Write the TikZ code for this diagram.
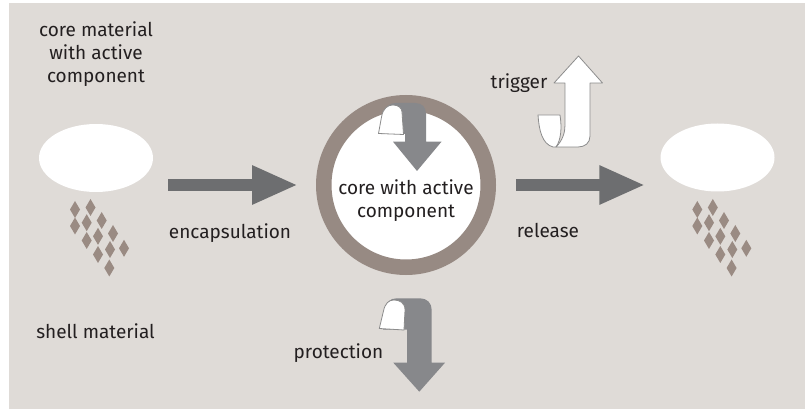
\documentclass[tikz,border=0pt]{standalone}
\usepackage{fontspec}
\setmainfont{Fira Sans}
\usetikzlibrary{arrows.meta,shapes.geometric}

\definecolor{bgc}{HTML}{DFDBD7}
\definecolor{ringc}{HTML}{978A83}
\definecolor{shellc}{HTML}{9A8B83}
\definecolor{flowc}{HTML}{6D6E70}
\definecolor{curlc}{HTML}{87888B}
\definecolor{edgec}{HTML}{8C8C8C}
\definecolor{textc}{HTML}{231F20}

\tikzset{
  label/.style={font=\fontsize{19}{23}\selectfont, text=textc, inner sep=0pt, anchor=base},
  droplet/.style={ellipse, fill=white, draw=none, inner sep=0pt,
                  minimum width=114pt, minimum height=68pt},
  capsule/.style={circle, draw=ringc, line width=15.5pt, fill=white,
                  minimum size=164.5pt, inner sep=0pt},
  flow/.style={draw=flowc, line width=12pt,
               -{Triangle[length=46pt,width=36pt]}},
  ribbon/.style={fill=white, draw=edgec, line width=0.8pt, line join=round},
}

% one cluster of shell-material particles, drawn at the current shift
\newcommand{\shellcluster}{%
  \foreach \px/\py in {75/209.5, 90.5/207.5, 75/226, 86.7/222.7, 101.7/220.5,
                       113/233.5, 86.7/240.5, 98/236.3, 110/249.5, 124/248.3,
                       98/254.5, 109.3/268}
    \fill[shellc] ({\px},{\py-8.5}) -- ({\px+5},{\py}) -- ({\px},{\py+8.5})
                  -- ({\px-5},{\py}) -- cycle;%
}

\begin{document}
\begin{tikzpicture}[x=1pt,y=-1pt]
  \useasboundingbox (0,0) rectangle (805,411);
  \fill[bgc] (9,3) rectangle (805,409);

  % starting materials
  \node[droplet] (lell) at (96,158) {};
  \shellcluster
  \node[label] (coreA) at (96,37) {core material};
  \node[label] (coreB) at (96,60) {with active};
  \node[label] (coreC) at (96,83) {component};
  \node[label] (shell) at (95.5,338) {shell material};

  % microcapsule
  \node[capsule] (ring) at (406,185) {};
  \node[label] (capA) at (406,195) {core with active};
  \node[label] (capB) at (406,218) {component};

  % released core and shell
  \node[droplet] (rell) at (717.5,157.5) {};
  \begin{scope}[xshift=622.3pt]
    \shellcluster
  \end{scope}

  % process arrows
  \draw[flow, shorten <=15pt, shorten >=18pt] (lell.east |- ring.west) -- (ring.west);
  \draw[flow, shorten <=20pt, shorten >=15pt] (ring.east) -- (rell.west |- ring.east);
  \node[label] (encap) at (230,239) {encapsulation};
  \node[label] (rel) at (548,238) {release};

  % protection arrow inside the capsule
  \fill[curlc] (405,141.7) -- (393,141.7) -- (417,171) -- (441.5,141.7) -- (426,141.7)
    -- (426,114) .. controls (426,107) and (422,103) .. (415,103) -- (396,103)
    .. controls (390,103) and (386,106) .. (385,112) -- (383,134) -- (405,134) -- cycle;
  \draw[ribbon] (378.5,133.5) -- (381.5,117) .. controls (383,108) and (388,105) .. (393,105)
    .. controls (398,105) and (402,108) .. (402,112) -- (403.5,134.5) -- cycle;

  % protection arrow below
  \fill[curlc] (407,362.7) -- (393.3,362.7) -- (419.3,391.7) -- (445,362.7) -- (431.7,362.7)
    -- (431.7,310) .. controls (431.7,303) and (427,298.3) .. (420,298.3) -- (397,298.3)
    .. controls (390,298.3) and (386,302) .. (385,310) -- (383,329.5) -- (407,329.5) -- cycle;
  \draw[ribbon] (379.3,328.5) -- (383.3,311.7) .. controls (385,303) and (389,300) .. (394,300)
    .. controls (400,300) and (405,303) .. (405,310) -- (404,330) -- cycle;
  \node[label] (prot) at (338.5,358) {protection};

  % trigger arrow
  \draw[ribbon] (538,115) -- (560,115) .. controls (562,128) and (561,140) .. (556,147)
    -- (553,147) .. controls (542,144) and (539,130) .. (538,115) -- cycle;
  \draw[ribbon] (565,83) -- (554,83) -- (578.5,56) -- (602.5,83) -- (590,83) -- (590,136)
    .. controls (590,143) and (585,147) .. (578,147) -- (556,147)
    .. controls (563,140) and (565,132) .. (565,125) -- cycle;
  \node[label] (trig) at (519,89) {trigger};
\end{tikzpicture}
\end{document}
